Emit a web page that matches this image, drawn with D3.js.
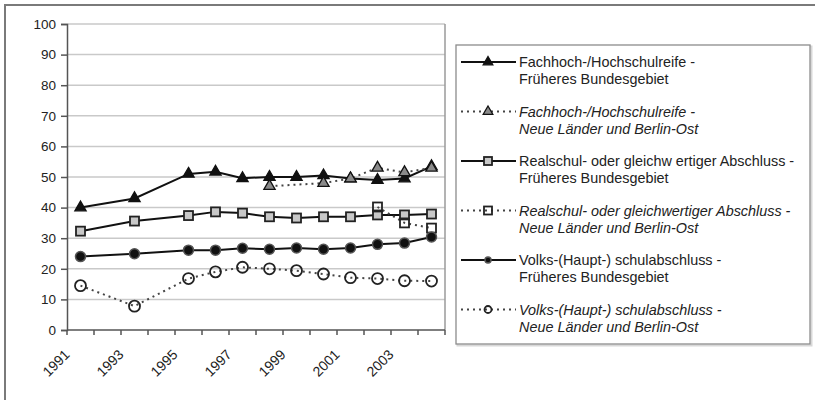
<!DOCTYPE html>
<html><head><meta charset="utf-8">
<script src="https://cdn.jsdelivr.net/npm/d3@7"></script>
<style>
html,body{margin:0;padding:0;background:#fff;}
text{font-family:"Liberation Sans",Arial,sans-serif;fill:#222;}
</style></head>
<body><svg id="c" width="815" height="400"></svg>
<script>
const years = [1991,1992,1993,1994,1995,1996,1997,1998,1999,2000,2001,2002,2003,2004];
const yTicks = [0,10,20,30,40,50,60,70,80,90,100];
const xLabels = [1991,1993,1995,1997,1999,2001,2003];
// values per year (null = no data)
const fachFB  = [40,null,43,null,51,51.7,49.6,50,50,50.5,49.5,49,49.5,53.5];
const fachNL  = [null,null,null,null,null,null,null,47,null,48,49.5,53,51.5,53];
const realFB  = [32.3,null,35.6,null,37.4,38.6,38.2,37,36.6,37,37,37.6,37.6,37.9];
const realNL  = [null,null,null,null,null,null,null,null,null,null,null,40.2,35,33.3];
const volksFB = [24,null,24.9,null,26.1,26.1,26.7,26.4,26.8,26.4,26.8,28,28.4,30.4];
const volksNL = [14.5,null,7.8,null,16.8,19,20.5,20,19.4,18.3,17.1,16.8,16.1,16];
const seriesNames = [
  ["Fachhoch-/Hochschulreife -","Früheres Bundesgebiet"],
  ["Fachhoch-/Hochschulreife -","Neue Länder und Berlin-Ost"],
  ["Realschul- oder gleichw ertiger Abschluss -","Früheres Bundesgebiet"],
  ["Realschul- oder gleichwertiger Abschluss -","Neue Länder und Berlin-Ost"],
  ["Volks-(Haupt-) schulabschluss -","Früheres Bundesgebiet"],
  ["Volks-(Haupt-) schulabschluss -","Neue Länder und Berlin-Ost"]
];

const series = [
  {vals:fachFB, dashed:false, marker:"tri", fill:"#111", italic:false},
  {vals:fachNL, dashed:true, marker:"tri", fill:"#8a8a8a", italic:true},
  {vals:realFB, dashed:false, marker:"sq", fill:"#c8c8c8", italic:false},
  {vals:realNL, dashed:true, marker:"sq", fill:"none", italic:true},
  {vals:volksFB, dashed:false, marker:"dot", fill:"#111", italic:false},
  {vals:volksNL, dashed:true, marker:"circ", fill:"none", italic:true}
];

const svg = d3.select("#c");
svg.append("rect").attr("width",815).attr("height",400).attr("fill","#fff");
// outer frame
svg.append("path").attr("d","M5,400V5H815").attr("fill","none").attr("stroke","#7a7a7a").attr("stroke-width",2);

const L=67, R=445, T=24, B=330;
const x = d3.scaleBand().domain(years).range([L,R]).padding(0);
const y = d3.scaleLinear().domain([0,100]).range([B,T]);
const cx = d => x(d) + x.bandwidth()/2;

// gridlines
svg.append("g").selectAll("line").data(yTicks.filter(t=>t>0)).join("line")
  .attr("x1",L).attr("x2",R).attr("y1",d=>y(d)).attr("y2",d=>y(d))
  .attr("stroke","#c9c9c9").attr("stroke-width",1.5);
// plot right border
svg.append("line").attr("x1",R).attr("x2",R).attr("y1",T).attr("y2",B).attr("stroke","#9a9a9a").attr("stroke-width",1.5);

// y axis
const yAxis = d3.axisLeft(y).tickValues(yTicks).tickSize(6).tickPadding(5);
const gy = svg.append("g").attr("transform",`translate(${L},0)`).call(yAxis);
gy.select(".domain").attr("stroke","#555").attr("stroke-width",1.5);
gy.selectAll(".tick line").attr("stroke","#555").attr("stroke-width",1.5);
gy.selectAll(".tick text").attr("font-size",13.5).attr("fill","#222").style("font-family","Liberation Sans, Arial, sans-serif");

// x axis
const gx = svg.append("g").attr("transform",`translate(0,${B})`);
gx.append("line").attr("x1",L).attr("x2",R).attr("stroke","#555").attr("stroke-width",1.5);
const bounds = years.map(d=>x(d)).concat([R]);
gx.selectAll("line.tk").data(bounds).join("line").attr("class","tk")
  .attr("x1",d=>d).attr("x2",d=>d).attr("y1",0).attr("y2",5).attr("stroke","#555").attr("stroke-width",1.5);
gx.selectAll("text").data(xLabels).join("text")
  .attr("transform",d=>`translate(${x(d)},${22}) rotate(-45)`)
  .attr("text-anchor","end").attr("dy","0.35em").attr("font-size",14)
  .text(d=>d);

// markers
function drawMarker(g, s, px, py, legend){
  if(s.marker==="tri"){
    g.append("path").attr("d",d3.symbol(d3.symbolTriangle,legend?40:55)()).attr("transform",`translate(${px},${py})`)
      .attr("fill",s.fill).attr("stroke","#111").attr("stroke-width",1.3);
  } else if(s.marker==="sq"){
    const h = legend?4:4.5;
    g.append("rect").attr("x",px-h).attr("y",py-h).attr("width",2*h).attr("height",2*h)
      .attr("fill",s.fill).attr("stroke","#222").attr("stroke-width",1.8);
  } else if(s.marker==="dot"){
    g.append("circle").attr("cx",px).attr("cy",py).attr("r",legend?3:5)
      .attr("fill","#111").attr("stroke","#555").attr("stroke-width",1.5);
  } else {
    g.append("circle").attr("cx",px).attr("cy",py).attr("r",legend?3.5:5.5)
      .attr("fill","none").attr("stroke","#222").attr("stroke-width",1.8);
  }
}

const line = d3.line().x(d=>cx(d.year)).y(d=>y(d.v));
series.forEach(s=>{
  const pts = years.map((yr,i)=>({year:yr,v:s.vals[i]})).filter(d=>d.v!=null);
  const g = svg.append("g");
  g.append("path").datum(pts).attr("d",line).attr("fill","none")
    .attr("stroke", s.dashed?"#444":"#111").attr("stroke-width", 2)
    .attr("stroke-dasharray", s.dashed?"2,4":null);
  pts.forEach(p=>drawMarker(g,s,cx(p.year),y(p.v),false));
});

// legend
const lg = svg.append("g");
lg.append("rect").attr("x",457.5).attr("y",46.5).attr("width",354).attr("height",299).attr("fill","none").attr("stroke","#d8d8d8").attr("stroke-width",2);
lg.append("rect").attr("x",456).attr("y",45).attr("width",354).attr("height",299).attr("fill","#fff").attr("stroke","#8c8c8c").attr("stroke-width",1.3);
const entryY = [62,111.5,161,210.5,260,309.5];
series.forEach((s,i)=>{
  const yy = entryY[i];
  const g = lg.append("g");
  g.append("line").attr("x1",461).attr("x2",516).attr("y1",yy).attr("y2",yy)
    .attr("stroke", s.dashed?"#444":"#111").attr("stroke-width",2)
    .attr("stroke-dasharray", s.dashed?"2,4":null);
  drawMarker(g,s,488,yy,true);
  const t = g.append("text").attr("x",519).attr("y",yy).attr("font-size",14.4)
    .attr("font-style", s.italic?"italic":"normal");
  t.append("tspan").attr("x",519).attr("dy","0.35em").text(seriesNames[i][0]);
  t.append("tspan").attr("x",519).attr("dy",17).text(seriesNames[i][1]);
});
</script></body></html>
